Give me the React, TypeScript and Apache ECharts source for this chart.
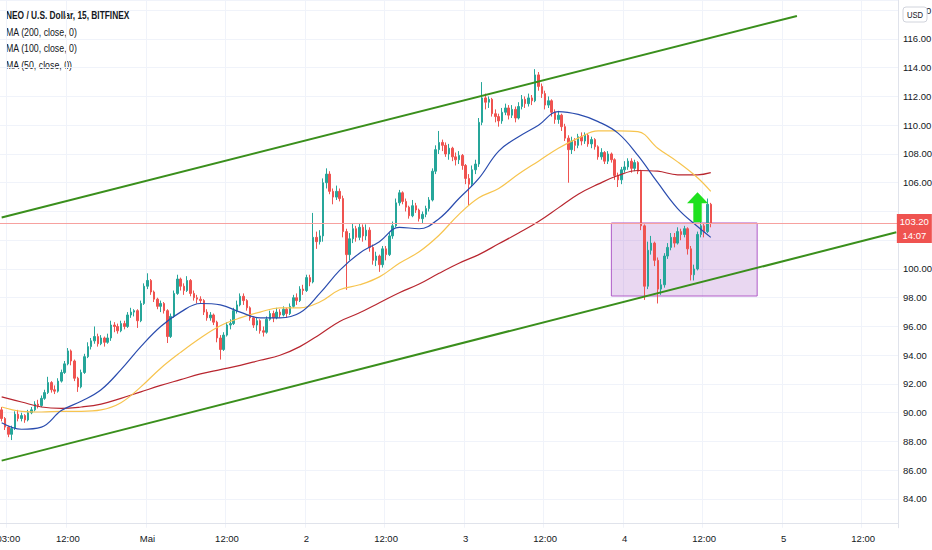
import React, { useEffect, useRef } from 'react';
import * as echarts from 'echarts';

// 30-minute candles starting Apr 30 02:00 (index 0)
const firstOpen = 90.2;
const closes = [
  89.6, 89.0, 88.5, 88.9, 89.9, 89.6, 89.8, 89.5, 90.0, 90.2,
  90.6, 90.5, 91.0, 91.4, 92.1, 91.6, 91.5, 92.2, 92.8, 93.4,
  94.3, 93.6, 92.4, 91.8, 92.8, 93.9, 94.6, 95.0, 95.3, 94.8,
  95.2, 94.9, 95.2, 96.1, 96.0, 95.7, 96.2, 96.0, 96.8, 97.0,
  97.1, 96.4, 97.6, 98.8, 99.2, 98.4, 97.9, 97.4, 97.6, 97.1,
  95.3, 96.7, 98.3, 99.3, 98.8, 98.5, 99.2, 98.3, 98.0, 97.9,
  97.8, 97.0, 96.6, 96.8, 96.3, 95.2, 94.4, 95.4, 96.1, 96.2,
  97.1, 97.5, 98.1, 97.8, 97.3, 96.6, 96.1, 96.4, 95.7, 95.6,
  96.5, 96.9, 96.6, 97.0, 96.8, 97.2, 96.9, 97.4, 98.0, 97.8,
  98.6, 98.5, 99.4, 99.1, 102.2, 101.9, 102.3, 106.0, 106.6, 105.4,
  105.0, 105.4, 104.9, 102.6, 101.0, 102.1, 102.8, 102.2, 102.9, 102.3,
  102.7, 101.5, 100.6, 100.9, 100.3, 101.4, 101.0, 102.3, 103.0, 104.6,
  105.3, 104.7, 104.3, 103.7, 104.4, 104.1, 103.5, 103.8, 104.2, 104.8,
  106.8, 108.3, 108.8, 108.6, 108.0, 108.4, 107.8, 107.6, 107.9, 107.2,
  106.3, 105.9, 106.9, 107.3, 110.2, 111.9, 111.6, 111.8, 110.8, 110.6,
  110.3, 110.9, 111.2, 110.7, 111.1, 110.5, 111.3, 111.8, 111.5, 111.9,
  111.7, 113.5, 112.7, 112.2, 111.4, 111.7, 110.9, 110.4, 110.7, 109.9,
  109.1, 108.3, 108.9, 108.6, 109.2, 108.9, 109.3, 108.7, 109.0, 108.5,
  107.8, 108.1, 107.5, 108.0, 107.6, 106.5, 106.2, 106.9, 107.1, 107.5,
  107.0, 107.4, 106.8, 103.0, 98.8, 101.3, 101.8, 100.6, 98.6, 98.9,
  100.9, 101.5, 102.2, 101.8, 102.6, 102.4, 102.8, 101.4, 99.6, 100.0,
  102.4, 103.0, 102.6, 104.5, 103.2,
];
const highs = [
  90.4, 89.7, 89.1, 89.1, 90.1, 90.2, 90.0, 89.9, 90.2, 90.4,
  90.8, 90.9, 91.2, 91.6, 92.5, 92.2, 91.9, 92.4, 93.0, 93.6,
  94.5, 94.4, 93.7, 92.5, 93.0, 94.1, 94.9, 95.2, 96.0, 95.5,
  95.4, 95.3, 95.5, 96.4, 96.3, 96.2, 96.4, 96.4, 97.0, 97.3,
  97.2, 97.2, 97.8, 99.0, 99.7, 99.3, 98.5, 98.0, 97.8, 97.7,
  97.2, 96.9, 98.5, 99.6, 99.4, 99.0, 99.5, 99.3, 98.5, 98.2,
  98.1, 97.9, 97.2, 97.0, 96.9, 96.4, 95.4, 95.6, 96.3, 96.5,
  97.3, 97.8, 98.3, 98.3, 97.9, 97.4, 96.7, 96.6, 96.5, 96.0,
  96.7, 97.1, 97.1, 97.3, 97.2, 97.4, 97.3, 97.6, 98.2, 98.3,
  98.8, 98.9, 99.6, 99.6, 103.9, 102.6, 102.7, 106.3, 107.0, 106.8,
  105.6, 105.8, 105.6, 105.1, 102.8, 102.5, 103.2, 103.0, 103.2, 103.1,
  103.1, 102.9, 101.7, 101.2, 101.0, 101.6, 101.6, 102.5, 103.3, 104.9,
  105.5, 105.4, 104.9, 104.4, 104.8, 104.6, 104.2, 104.0, 104.4, 105.0,
  107.0, 108.6, 109.6, 109.0, 108.8, 108.7, 108.5, 108.1, 108.2, 108.0,
  107.3, 106.6, 107.2, 107.6, 110.5, 113.0, 112.2, 112.0, 111.9, 111.1,
  110.8, 111.2, 111.5, 111.4, 111.4, 111.3, 111.6, 112.1, 112.0, 112.2,
  112.1, 113.9, 113.7, 112.9, 112.4, 112.0, 111.8, 111.1, 111.0, 110.8,
  110.1, 109.3, 109.2, 109.1, 109.4, 109.5, 109.5, 109.4, 109.2, 109.1,
  108.6, 108.4, 108.2, 108.2, 108.1, 107.7, 106.7, 107.1, 107.5, 107.7,
  107.7, 107.6, 107.5, 106.9, 103.1, 101.9, 102.3, 101.9, 100.8, 99.3,
  101.1, 101.8, 102.5, 102.5, 102.9, 102.8, 103.0, 102.9, 101.6, 100.3,
  102.6, 103.3, 103.2, 104.9, 104.6,
];
const lows = [
  89.4, 88.8, 88.3, 88.1, 88.8, 89.4, 89.4, 89.3, 89.4, 89.9,
  90.1, 90.3, 90.4, 90.9, 91.3, 91.4, 91.3, 91.4, 92.1, 92.7,
  93.3, 93.3, 92.2, 91.45, 91.7, 92.7, 93.8, 94.4, 94.8, 94.6,
  94.7, 94.6, 94.8, 95.0, 95.6, 95.5, 95.6, 95.8, 95.9, 96.6,
  96.7, 95.9, 96.3, 97.5, 98.6, 98.2, 97.7, 97.2, 97.0, 96.9,
  94.85, 95.2, 96.6, 98.2, 98.5, 98.2, 98.4, 98.1, 97.8, 97.6,
  97.6, 96.8, 96.4, 96.4, 96.1, 94.9, 93.7, 94.3, 95.3, 95.8,
  96.1, 96.9, 97.4, 97.5, 97.1, 96.4, 95.9, 95.7, 95.5, 95.3,
  95.5, 96.4, 96.3, 96.5, 96.6, 96.7, 96.6, 96.8, 97.3, 97.5,
  97.7, 98.2, 98.4, 98.8, 99.0, 101.4, 101.7, 101.9, 105.6, 105.2,
  104.5, 104.8, 104.7, 102.2, 98.55, 100.6, 101.8, 101.9, 102.0, 101.9,
  102.0, 101.2, 100.3, 100.2, 99.8, 100.1, 100.6, 100.9, 102.1, 102.9,
  104.4, 104.5, 104.0, 103.5, 103.6, 103.9, 103.3, 103.2, 103.6, 104.0,
  104.7, 106.6, 108.0, 108.2, 107.8, 107.6, 107.5, 107.2, 107.3, 106.9,
  105.9, 104.45, 105.7, 106.6, 107.1, 110.0, 111.1, 111.2, 110.6, 110.2,
  109.9, 110.1, 110.7, 110.4, 110.5, 110.2, 110.4, 111.1, 111.2, 111.3,
  111.4, 111.6, 112.4, 111.9, 111.1, 111.2, 110.6, 110.1, 110.1, 109.6,
  108.9, 106.0, 108.0, 108.2, 108.4, 108.6, 108.7, 108.5, 108.4, 108.3,
  107.6, 107.6, 107.3, 107.3, 107.4, 106.2, 105.7, 105.9, 106.7, 106.9,
  106.7, 106.8, 106.6, 102.7, 97.85, 98.6, 101.0, 100.2, 97.6, 98.2,
  98.7, 100.7, 101.3, 101.5, 101.7, 102.0, 102.2, 101.0, 99.2, 99.2,
  99.9, 102.2, 102.2, 102.5, 102.9,
];

// moving averages read every 3 hours (candle indices)
const maIndex = [0, 6, 12, 18, 24, 30, 36, 42, 48, 54, 60, 66, 72, 78, 84, 90, 96, 102, 108, 114, 120, 126, 132, 138, 144, 150, 156, 162, 168, 174, 180, 186, 192, 198, 204, 210, 214];
const ma200 = [91.1, 90.75, 90.4, 90.3, 90.4, 90.6, 91.0, 91.45, 91.9, 92.3, 92.7, 93.0, 93.3, 93.65, 94.0, 94.6, 95.45, 96.35, 96.95, 97.65, 98.35, 98.95, 99.7, 100.4, 101.0, 101.75, 102.5, 103.3, 104.25, 105.2, 105.9, 106.5, 106.85, 106.8, 106.55, 106.55, 106.7];
const ma100 = [90.4, 90.1, 90.05, 90.1, 90.1, 90.2, 90.7, 91.8, 93.1, 94.2, 95.2, 96.05, 96.6, 97.0, 97.3, 97.3, 97.7, 98.55, 98.9, 99.45, 100.4, 101.2, 102.35, 103.8, 104.95, 105.6, 106.6, 107.5, 108.4, 109.1, 109.6, 109.6, 109.55, 108.4, 107.45, 106.35, 105.4];
const ma50 = [89.3, 88.85, 89.0, 90.15, 90.8, 91.6, 93.0, 94.6, 96.0, 97.0, 97.6, 97.5, 97.0, 96.6, 96.6, 96.95, 98.3, 99.9, 101.1, 101.9, 102.9, 102.8, 103.5, 104.9, 106.3, 108.2, 109.2, 110.0, 110.95, 110.75, 110.25, 109.45, 107.9, 106.0, 104.2, 102.95, 102.2];

// x axis
const categoryCount = 271;
const tickIndex = [2, 20, 44, 68, 92, 116, 140, 164, 188, 212, 236, 260];
const tickText = ['03:00', '12:00', 'Mai', '12:00', '2', '12:00', '3', '12:00', '4', '12:00', '5', '12:00'];

// annotations
const lastPrice = 103.2;
const countdown = '14:07';
const upperChannel = [[0, 103.58], [240, 117.6]];
const lowerChannel = [[0, 86.67], [270, 102.55]];
const zone = [[184, 103.2], [228, 98.12]];
const arrowAt = [210, 104.3];
const legendLines = ['NEO / U.S. Dollar, 15, BITFINEX', 'MA (200, close, 0)', 'MA (100, close, 0)', 'MA (50, close, 0)'];

const FONT = "'Liberation Sans Narrow', 'Arial Narrow', 'Liberation Sans', Arial, sans-serif";

export default function App() {
  const ref = useRef<HTMLDivElement>(null);
  useEffect(() => {
    const chart = echarts.init(ref.current as HTMLDivElement, null, { renderer: 'svg' });
    const categories = Array.from({ length: categoryCount }, (_, i) => String(i));
    const candles = closes.map((c, i) => [i === 0 ? firstOpen : closes[i - 1], c, lows[i], highs[i]]);
    const maData = (vals: number[]) => maIndex.map((idx, k) => [idx, vals[k]]);
    const isTick = (i: number) => tickIndex.indexOf(i) >= 0;

    const maSeries = (name: string, vals: number[], color: string) => ({
      name,
      type: 'line',
      data: maData(vals),
      smooth: 0.4,
      showSymbol: false,
      symbol: 'none',
      lineStyle: { color, width: 1.2 },
      z: 4,
      silent: true,
    });
    const channelSeries = (pts: number[][]) => ({
      type: 'line',
      data: pts,
      showSymbol: false,
      symbol: 'none',
      lineStyle: { color: '#3a8f1c', width: 2 },
      z: 5,
      silent: true,
    });

    chart.setOption({
      animation: false,
      backgroundColor: '#ffffff',
      grid: { left: 0, right: 34, top: 0, bottom: 22.25, containLabel: false, outerBoundsMode: 'none' },
      xAxis: {
        type: 'category',
        data: categories,
        boundaryGap: true,
        offset: -5,
        axisLine: { show: true, lineStyle: { color: '#e0e3eb' } },
        axisTick: { show: false },
        axisLabel: {
          interval: (i: number) => isTick(i),
          formatter: (v: string) => {
            const k = tickIndex.indexOf(Number(v));
            return k >= 0 ? tickText[k] : '';
          },
          color: '#131722',
          fontSize: 9.5,
          fontFamily: FONT,
          margin: 11,
          hideOverlap: false,
        },
        splitLine: {
          show: true,
          interval: (i: number) => isTick(i),
          lineStyle: { color: '#f0f3fa', width: 1 },
        },
      },
      yAxis: {
        type: 'value',
        position: 'right',
        min: 82,
        max: 118.71,
        interval: 2,
        z: 0,
        axisLine: { show: true, lineStyle: { color: '#e0e3eb' } },
        axisTick: { show: false },
        axisLabel: {
          // the last-price tag covers the tick label next to it
          formatter: (v: number) => (Math.abs(v - lastPrice) < 1.3 ? '' : v.toFixed(2)),
          color: '#131722',
          fontSize: 9.5,
          fontFamily: FONT,
          margin: 5,
          showMinLabel: false,
          showMaxLabel: false,
        },
        splitLine: { show: true, showMinLine: false, lineStyle: { color: '#f0f3fa', width: 1 } },
      },
      series: [
        {
          type: 'candlestick',
          data: candles,
          barWidth: 2,
          z: 3,
          itemStyle: {
            color: '#26a69a',
            color0: '#ef5350',
            borderColor: '#26a69a',
            borderColor0: '#ef5350',
            borderWidth: 1,
          },
          markArea: {
            silent: true,
            itemStyle: { color: 'rgba(156, 72, 190, 0.22)', borderColor: '#b05cc8', borderWidth: 1 },
            data: [[{ coord: zone[0] }, { coord: zone[1] }]],
          },
          markLine: {
            silent: true,
            symbol: ['none', 'none'],
            label: { show: false },
            lineStyle: { color: '#f7a19f', width: 1, type: 'solid' },
            data: [{ yAxis: lastPrice }],
          },
          markPoint: {
            silent: true,
            zlevel: 1,
            z: 50,
            data: [
              {
                coord: arrowAt,
                symbol: 'path://M10,0 L20,11 L14,11 L14,30 L6,30 L6,11 L0,11 Z',
                symbolSize: [21, 30],
                itemStyle: { color: '#1fe11f' },
                label: { show: false },
              },
              {
                coord: [categoryCount - 1, lastPrice],
                symbol: 'rect',
                symbolSize: [35, 29],
                symbolOffset: [18, 5.5],
                itemStyle: { color: '#ef5350' },
                label: {
                  show: true,
                  position: 'inside',
                  formatter: lastPrice.toFixed(2) + '\n' + countdown,
                  color: '#ffffff',
                  fontSize: 9.5,
                  lineHeight: 14,
                  fontFamily: FONT,
                },
              },
            ],
          },
        },
        maSeries('MA 200', ma200, '#b8262f'),
        maSeries('MA 100', ma100, '#f7c44e'),
        maSeries('MA 50', ma50, '#2a4cae'),
        channelSeries(upperChannel),
        channelSeries(lowerChannel),
      ],
      graphic: [
        ...legendLines.map((t, i) => ({
          type: 'text',
          x: 6,
          y: 10 + i * 16.4,
          scaleX: i === 0 ? 0.76 : 0.8,
          originX: 0,
          originY: 0,
          silent: true,
          style: {
            text: t,
            fill: '#131722',
            align: 'left',
            font: (i === 0 ? 'bold ' : '') + '11px ' + FONT,
          },
        })),
        {
          type: 'rect',
          shape: { x: 903, y: 7, width: 24, height: 15, r: 3 },
          style: { fill: '#ffffff', stroke: '#d1d4dc', lineWidth: 1 },
          z: 100,
          zlevel: 1,
        },
        {
          type: 'text',
          x: 915,
          y: 14.5,
          z: 101,
          zlevel: 1,
          scaleX: 0.85,
          style: { text: 'USD', fill: '#131722', align: 'center', verticalAlign: 'middle', font: '9px ' + FONT },
        },
      ],
    });
    return () => chart.dispose();
  }, []);
  return (
    <div
      ref={ref}
      style={{ position: 'fixed', left: 0, top: 0, width: 932, height: 550, background: '#ffffff' }}
    />
  );
}
